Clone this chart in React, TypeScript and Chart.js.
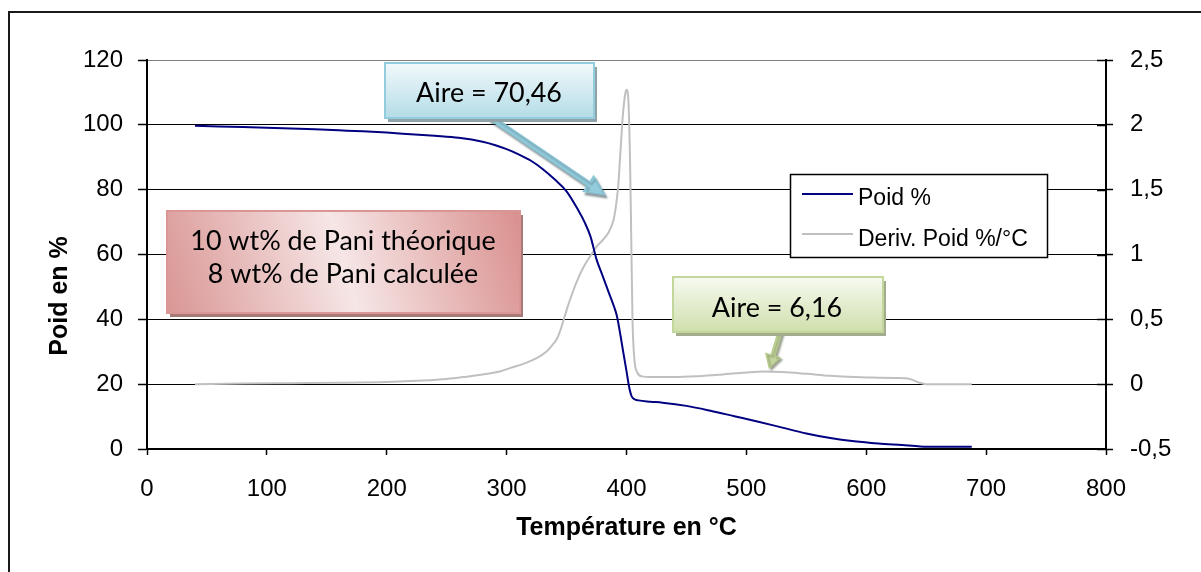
import React, { useEffect, useRef } from "react";
import { Chart, registerables } from "chart.js";

Chart.register(...registerables);

// ---- data ----
const temperaturePoid = [
  40, 60, 80, 100, 120, 140, 160, 180, 200, 220, 240, 260, 280, 290, 300, 310, 320, 330, 340, 350,
  360, 365, 370, 375, 380, 385, 390, 392, 395, 397, 400, 402, 404, 406, 410, 420, 430, 450, 470,
  490, 510, 530, 550, 570, 590, 610, 630, 645, 660, 688,
];
const poidPercent = [
  99.7, 99.5, 99.3, 99.1, 98.9, 98.6, 98.3, 98.0, 97.6, 97.1, 96.6, 96.0, 94.8, 93.8, 92.5, 90.9,
  89.0, 86.4, 83.2, 79.5, 73.5, 70.0, 65.5, 58.5, 53.5, 48.5, 43.5, 41.0, 35.0, 30.5, 24.0, 19.5,
  16.5, 15.5, 15.0, 14.6, 14.3, 13.3, 11.8, 10.1, 8.4, 6.6, 4.8, 3.4, 2.4, 1.7, 1.2, 0.8, 0.7, 0.7,
];
const temperatureDeriv = [
  40, 80, 120, 160, 200, 230, 250, 265, 280, 295, 305, 315, 325, 333, 338, 342, 345, 348, 351, 354,
  358, 364, 370, 375, 380, 385, 389, 391, 393, 395, 397, 399, 400, 401.5, 403, 404, 405, 406.5,
  409, 413, 420, 440, 460, 480, 500, 515, 530, 550, 570, 590, 610, 625, 633, 638, 644, 650, 688,
];
const derivPoid = [
  0.0, 0.005, 0.008, 0.011, 0.017, 0.028, 0.04, 0.056, 0.075, 0.1, 0.13, 0.16, 0.2, 0.25, 0.3,
  0.35, 0.42, 0.51, 0.6, 0.68, 0.78, 0.9, 0.99, 1.06, 1.11, 1.17, 1.26, 1.36, 1.52, 1.8, 2.08,
  2.24, 2.27, 2.2, 1.7, 1.1, 0.5, 0.2, 0.09, 0.06, 0.055, 0.055, 0.062, 0.075, 0.09, 0.097, 0.093,
  0.08, 0.065, 0.055, 0.05, 0.047, 0.045, 0.035, 0.012, 0.0, 0.0,
];

const xTickValues = [0, 100, 200, 300, 400, 500, 600, 700, 800];
const leftTickValues = [0, 20, 40, 60, 80, 100, 120];
const rightTickValues = [-0.5, 0, 0.5, 1, 1.5, 2, 2.5];

const seriesLabels = ["Poid %", "Deriv. Poid %/°C"];
const xTitle = "Température en °C";
const yTitle = "Poid en %";
const noteMain = ["10 wt% de Pani théorique", "8 wt% de Pani calculée"];
const noteArea1 = "Aire = 70,46";
const noteArea2 = "Aire = 6,16";
// arrow tips, in data units (temperature, derivative)
const arrowTip1 = [382, 1.46];
const arrowTip2 = [519, 0.125];

const AXIS_FONT = "'Liberation Sans', Arial, sans-serif";
const NOTE_FONT = "Lato, 'Open Sans', sans-serif";
const NAVY = "#000080";
const GREY = "#c0c0c0";

function blockArrow(ctx: any, x1: number, y1: number, x2: number, y2: number, shaft: number, headW: number, headL: number) {
  const ang = Math.atan2(y2 - y1, x2 - x1);
  const len = Math.hypot(x2 - x1, y2 - y1);
  ctx.save();
  ctx.translate(x1, y1);
  ctx.rotate(ang);
  ctx.beginPath();
  ctx.moveTo(0, -shaft / 2);
  ctx.lineTo(len - headL, -shaft / 2);
  ctx.lineTo(len - headL, -headW / 2);
  ctx.lineTo(len, 0);
  ctx.lineTo(len - headL, headW / 2);
  ctx.lineTo(len - headL, shaft / 2);
  ctx.lineTo(0, shaft / 2);
  ctx.closePath();
  ctx.fill();
  ctx.stroke();
  ctx.restore();
}

function shadowBox(ctx: any, x: number, y: number, w: number, h: number, fill: any, border: string, shadow: string) {
  ctx.save();
  ctx.fillStyle = shadow;
  ctx.fillRect(x + 3, y + 4, w, h);
  ctx.fillStyle = fill;
  ctx.fillRect(x, y, w, h);
  ctx.strokeStyle = border;
  ctx.lineWidth = 2;
  ctx.strokeRect(x, y, w, h);
  ctx.restore();
}

const overlayPlugin = {
  id: "overlay",
  afterDraw(chart: any) {
    const ctx = chart.ctx;
    const { right } = chart.chartArea;
    const xs = chart.scales.x;
    const y2 = chart.scales.y2;
    ctx.save();

    // outer frame
    ctx.strokeStyle = "#1a1a1a";
    ctx.lineWidth = 2;
    ctx.strokeRect(9, 12, 1400, 800);

    // inner part of right-axis ticks (cross ticks)
    ctx.strokeStyle = "#000";
    ctx.lineWidth = 1.5;
    rightTickValues.forEach((v) => {
      const py = Math.round(y2.getPixelForValue(v)) + 0.5;
      ctx.beginPath();
      ctx.moveTo(right - 9, py);
      ctx.lineTo(right, py);
      ctx.stroke();
    });

    // y axis title
    ctx.save();
    ctx.translate(67, 296);
    ctx.rotate(-Math.PI / 2);
    ctx.font = `bold 25px ${AXIS_FONT}`;
    ctx.fillStyle = "#000";
    ctx.textAlign = "center";
    ctx.textBaseline = "alphabetic";
    ctx.fillText(yTitle, 0, 0);
    ctx.restore();

    // note font size fitted to the reference width
    ctx.font = `28px ${NOTE_FONT}`;
    const noteSize = (28 * 305) / ctx.measureText(noteMain[0]).width;
    const noteFont = `${noteSize.toFixed(1)}px ${NOTE_FONT}`;

    // arrow 1 (blue)
    const t1x = xs.getPixelForValue(arrowTip1[0]);
    const t1y = y2.getPixelForValue(arrowTip1[1]);
    ctx.save();
    ctx.shadowColor = "rgba(60,80,90,0.55)";
    ctx.shadowOffsetX = 2;
    ctx.shadowOffsetY = 3;
    ctx.shadowBlur = 2;
    ctx.fillStyle = "#93cddd";
    ctx.strokeStyle = "#86c3d4";
    ctx.lineWidth = 1;
    blockArrow(ctx, 490, 117, t1x, t1y, 5, 19, 20);
    ctx.restore();

    // box 1 (blue)
    const g1 = ctx.createLinearGradient(0, 63, 0, 118);
    g1.addColorStop(0, "#f2f9fb");
    g1.addColorStop(1, "#b4dce7");
    shadowBox(ctx, 385, 63, 209, 55, g1, "#93cddd", "#8fa2a8");
    ctx.fillStyle = "#000";
    ctx.font = noteFont;
    ctx.textAlign = "center";
    ctx.textBaseline = "alphabetic";
    ctx.fillText(noteArea1, 489, 102);

    // box 2 (red)
    const g2 = ctx.createLinearGradient(520, 211, 167, 313);
    g2.addColorStop(0, "#d9908e");
    g2.addColorStop(0.5, "#f6e6e6");
    g2.addColorStop(1, "#d99694");
    shadowBox(ctx, 167, 211, 353, 102, g2, "#d99694", "#a77a78");
    ctx.fillStyle = "#000";
    ctx.font = noteFont;
    ctx.fillText(noteMain[0], 343, 250);
    ctx.fillText(noteMain[1], 343, 283);

    // arrow 2 (green)
    const t2x = xs.getPixelForValue(arrowTip2[0]);
    const t2y = y2.getPixelForValue(arrowTip2[1]);
    ctx.save();
    ctx.shadowColor = "rgba(70,80,50,0.5)";
    ctx.shadowOffsetX = 2;
    ctx.shadowOffsetY = 2;
    ctx.shadowBlur = 2;
    ctx.fillStyle = "#c3d69b";
    ctx.strokeStyle = "#b5ca88";
    ctx.lineWidth = 1;
    blockArrow(ctx, 780, 332, t2x, t2y, 4, 15, 13);
    ctx.restore();

    // box 3 (green)
    const g3 = ctx.createLinearGradient(0, 277, 0, 332);
    g3.addColorStop(0, "#f7faf1");
    g3.addColorStop(1, "#cfdfac");
    shadowBox(ctx, 673, 277, 210, 55, g3, "#c3d69b", "#a3ad8e");
    ctx.fillStyle = "#000";
    ctx.font = noteFont;
    ctx.fillText(noteArea2, 777, 317);

    // legend
    ctx.fillStyle = "#fff";
    ctx.fillRect(790, 174, 257, 83);
    ctx.strokeStyle = "#000";
    ctx.lineWidth = 1.5;
    ctx.strokeRect(790.5, 174.5, 257, 83);
    ctx.lineWidth = 2;
    ctx.strokeStyle = NAVY;
    ctx.beginPath();
    ctx.moveTo(802, 194);
    ctx.lineTo(853, 194);
    ctx.stroke();
    ctx.strokeStyle = GREY;
    ctx.beginPath();
    ctx.moveTo(802, 234);
    ctx.lineTo(853, 234);
    ctx.stroke();
    ctx.fillStyle = "#000";
    ctx.font = `23px ${AXIS_FONT}`;
    ctx.textAlign = "left";
    ctx.fillText(seriesLabels[0], 858, 205);
    ctx.fillText(seriesLabels[1], 858, 246);

    ctx.restore();
  },
};

export default function App() {
  const canvasRef = useRef<HTMLCanvasElement | null>(null);

  useEffect(() => {
    const canvas = canvasRef.current;
    if (!canvas) return;
    const poidData = temperaturePoid.map((t, i) => ({ x: t, y: poidPercent[i] }));
    const derivData = temperatureDeriv.map((t, i) => ({ x: t, y: derivPoid[i] }));

    const chart = new Chart(canvas, {
      type: "line",
      data: {
        datasets: [
          {
            label: seriesLabels[0],
            data: poidData,
            yAxisID: "y",
            borderColor: NAVY,
            borderWidth: 2,
            pointRadius: 0,
            cubicInterpolationMode: "monotone",
            fill: false,
          },
          {
            label: seriesLabels[1],
            data: derivData,
            yAxisID: "y2",
            borderColor: GREY,
            borderWidth: 2,
            pointRadius: 0,
            cubicInterpolationMode: "monotone",
            fill: false,
          },
        ],
      },
      options: {
        animation: false,
        responsive: false,
        devicePixelRatio: 1,
        layout: { padding: { top: 60, left: 0, right: 0, bottom: 0 } },
        plugins: { legend: { display: false }, tooltip: { enabled: false } },
        scales: {
          x: {
            type: "linear",
            min: 0,
            max: 800,
            afterBuildTicks: (s: any) => {
              s.ticks = xTickValues.map((v) => ({ value: v }));
            },
            afterFit: (s: any) => {
              s.height = 123;
            },
            grid: { drawOnChartArea: false, drawTicks: true, tickLength: 6, tickColor: "#000", tickWidth: 1.5 },
            border: { display: true, color: "#000", width: 2 },
            ticks: {
              padding: 20,
              color: "#000",
              font: { family: AXIS_FONT, size: 24 },
              maxRotation: 0,
              autoSkip: false,
            },
            title: {
              display: true,
              text: xTitle,
              color: "#000",
              font: { family: AXIS_FONT, size: 25, weight: "bold" },
              padding: { top: 0, bottom: 29 },
            },
          },
          y: {
            type: "linear",
            position: "left",
            min: 0,
            max: 120,
            afterBuildTicks: (s: any) => {
              s.ticks = leftTickValues.map((v) => ({ value: v }));
            },
            afterFit: (s: any) => {
              s.width = 147;
            },
            grid: {
              drawOnChartArea: true,
              drawTicks: true,
              tickLength: 9,
              tickColor: "#000",
              tickWidth: 1.5,
              lineWidth: 1,
              color: (c: any) => (c.tick && c.tick.value === 120 ? "#808080" : "#000"),
            },
            border: { display: true, color: "#000", width: 2 },
            ticks: { padding: 15, color: "#000", font: { family: AXIS_FONT, size: 24 }, autoSkip: false },
          },
          y2: {
            type: "linear",
            position: "right",
            min: -0.5,
            max: 2.5,
            afterBuildTicks: (s: any) => {
              s.ticks = rightTickValues.map((v) => ({ value: v }));
            },
            afterFit: (s: any) => {
              s.width = 95;
            },
            grid: { drawOnChartArea: false, drawTicks: true, tickLength: 7, tickColor: "#000", tickWidth: 1.5 },
            border: { display: true, color: "#000", width: 2 },
            ticks: {
              padding: 17,
              color: "#000",
              font: { family: AXIS_FONT, size: 24 },
              autoSkip: false,
              callback: (v: any) => String(Math.round(Number(v) * 10) / 10).replace(".", ","),
            },
          },
        },
      },
      plugins: [overlayPlugin],
    } as any);

    return () => chart.destroy();
  }, []);

  return (
    <div style={{ position: "fixed", left: 0, top: 0, width: 1201, height: 572, background: "#fff" }}>
      <canvas ref={canvasRef} width={1201} height={572} style={{ display: "block" }} />
    </div>
  );
}
